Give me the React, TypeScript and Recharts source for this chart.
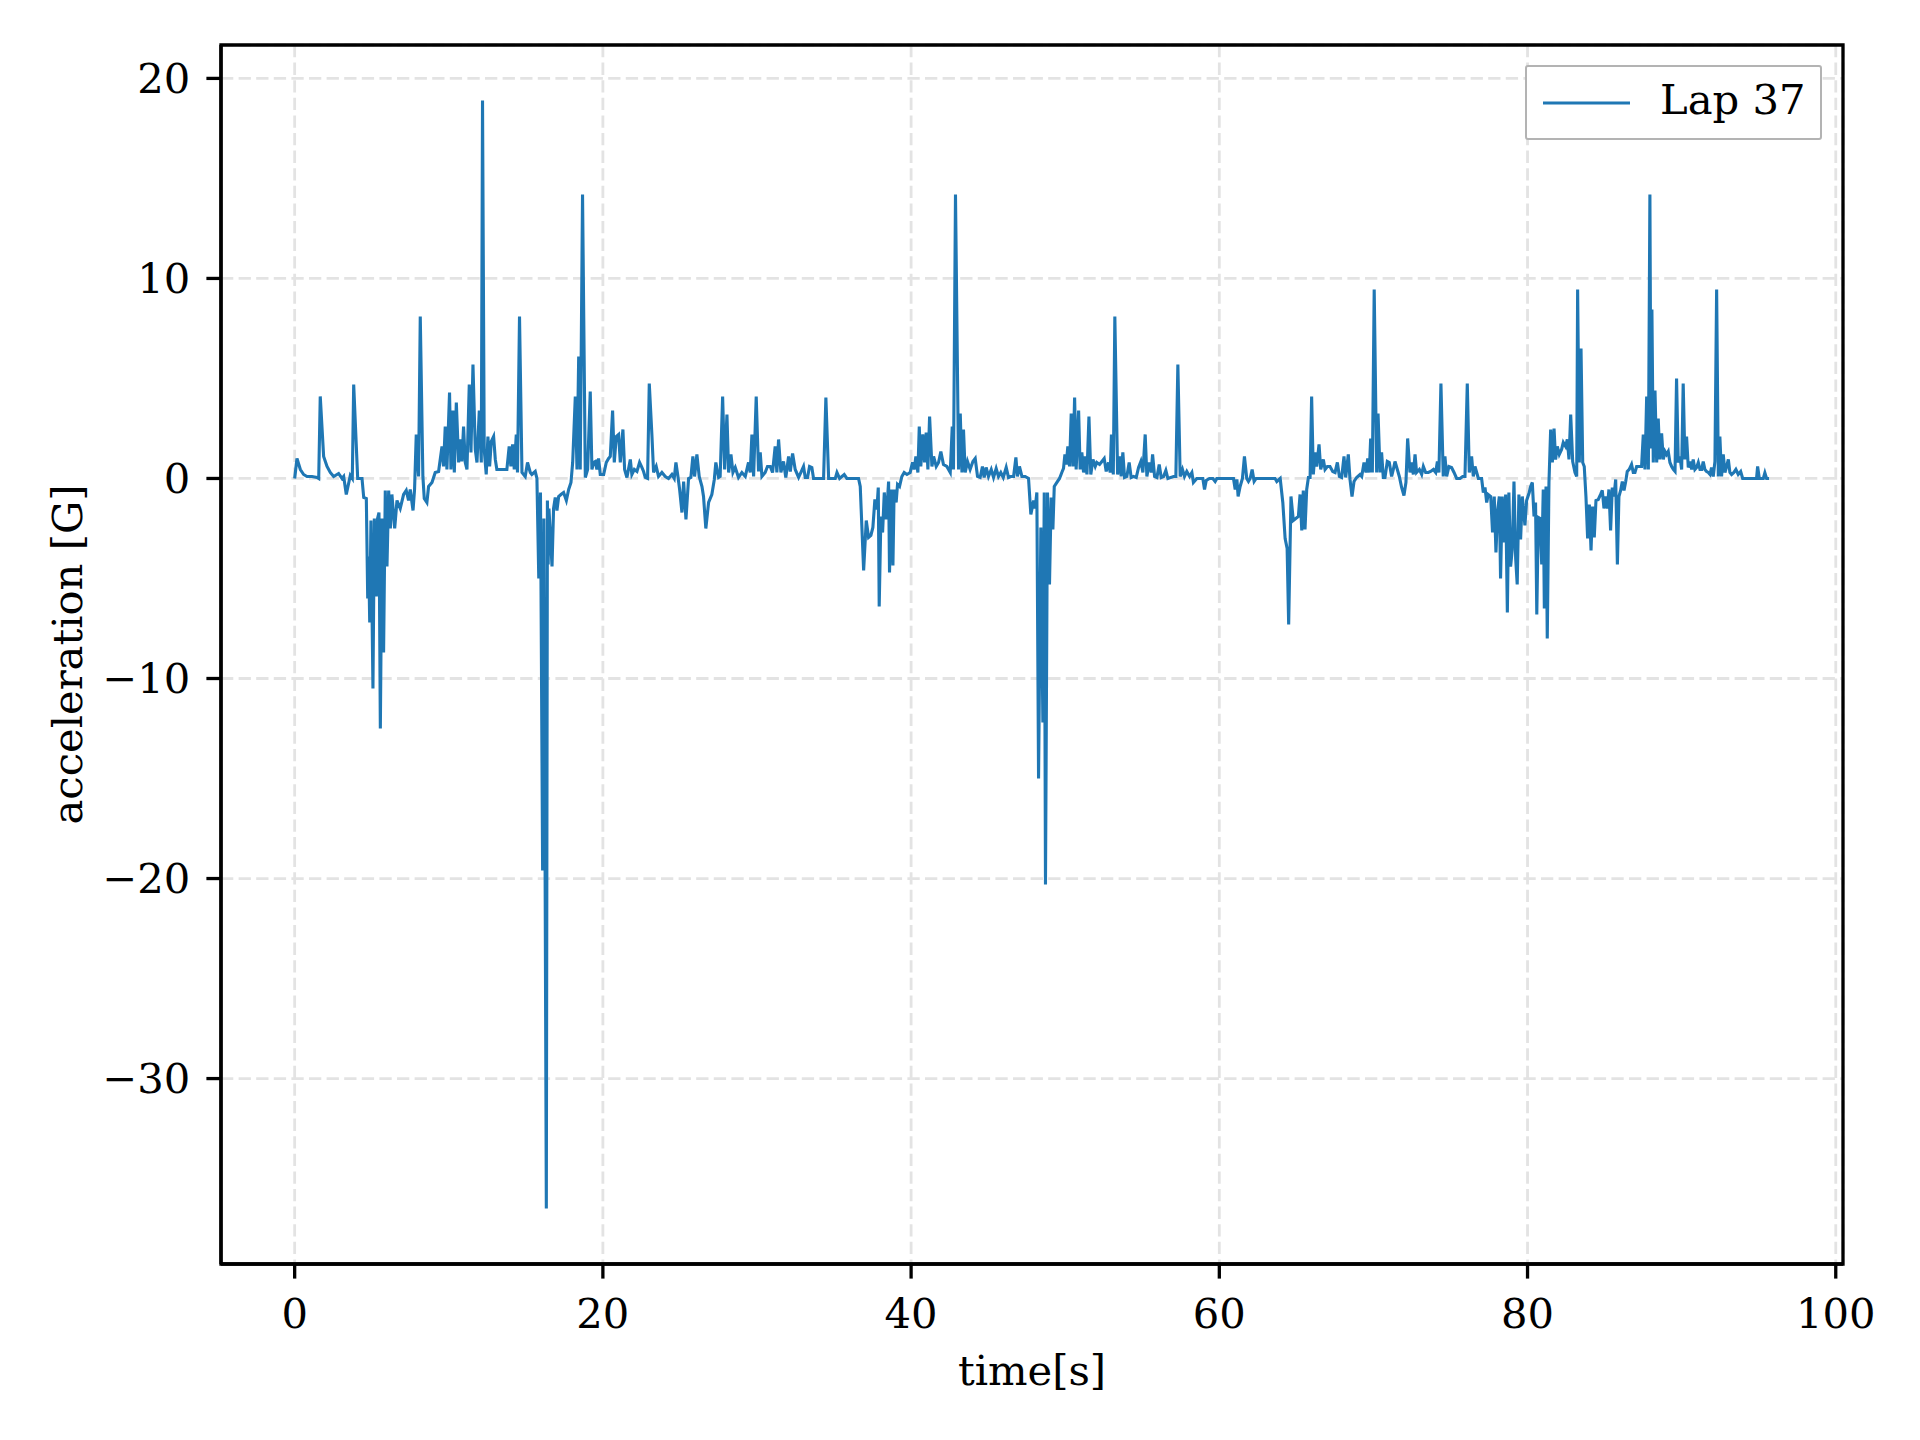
import {
  LineChart,
  Line,
  XAxis,
  YAxis,
  CartesianGrid,
  Legend,
  ReferenceArea,
  Label,
} from "recharts";

// time [s]
const time = [
  0, 0.15, 0.37, 0.58, 0.8, 1.12, 1.45, 1.56, 1.66, 1.88, 2.1, 2.31, 2.53, 2.85, 3.07, 3.18, 3.35, 3.61, 3.74, 3.83,
  4.09, 4.37, 4.48, 4.65, 4.74, 4.8, 4.87, 4.95, 5.08, 5.17, 5.3, 5.38, 5.47, 5.56, 5.67, 5.77, 5.88, 5.99, 6.1, 6.21,
  6.31, 6.49, 6.64, 6.85, 7.07, 7.24, 7.39, 7.5, 7.68, 7.78, 7.89, 8.04, 8.15, 8.32, 8.41, 8.58, 8.69, 8.91, 9.12, 9.34,
  9.56, 9.66, 9.77, 9.88, 10.05, 10.14, 10.27, 10.36, 10.49, 10.64, 10.75, 10.85, 10.96, 11.07, 11.18, 11.33, 11.44, 11.57, 11.72, 11.83,
  11.98, 12.11, 12.19, 12.3, 12.43, 12.54, 12.65, 12.76, 12.91, 13.02, 13.12, 13.34, 13.77, 13.92, 14.03, 14.14, 14.25, 14.38, 14.46, 14.59,
  14.75, 14.96, 15.11, 15.29, 15.39, 15.61, 15.72, 15.84, 15.95, 16.09, 16.17, 16.33, 16.4, 16.45, 16.5, 16.7, 16.8, 16.91, 17.02, 17.13,
  17.28, 17.45, 17.63, 17.78, 17.93, 18.04, 18.21, 18.32, 18.43, 18.53, 18.68, 18.86, 19.01, 19.18, 19.29, 19.4, 19.51, 19.61, 19.72, 19.83,
  20.05, 20.22, 20.37, 20.48, 20.63, 20.74, 20.87, 21.02, 21.13, 21.3, 21.41, 21.56, 21.78, 21.88, 22.04, 22.21, 22.38, 22.53, 22.64, 22.75,
  22.9, 23.01, 23.18, 23.29, 23.46, 23.61, 23.83, 24.05, 24.26, 24.48, 24.63, 24.74, 24.87, 24.98, 25.13, 25.24, 25.39, 25.56, 25.71, 25.84,
  25.95, 26.1, 26.25, 26.43, 26.53, 26.68, 26.86, 27.07, 27.23, 27.33, 27.51, 27.61, 27.77, 27.9, 28.05, 28.16, 28.31, 28.44, 28.59, 28.8,
  29.02, 29.24, 29.45, 29.56, 29.67, 29.78, 29.95, 30.1, 30.21, 30.32, 30.53, 30.68, 30.86, 31.01, 31.18, 31.29, 31.4, 31.55, 31.72, 31.87,
  32.05, 32.16, 32.31, 32.48, 32.7, 32.85, 33.02, 33.13, 33.28, 33.41, 33.56, 33.67, 34.32, 34.47, 34.65, 35.08, 35.19, 35.36, 35.66, 35.83,
  36.59, 36.7, 36.92, 37.09, 37.24, 37.39, 37.52, 37.65, 37.78, 37.87, 37.93, 38.04, 38.15, 38.26, 38.39, 38.54, 38.6, 38.71, 38.82, 38.9,
  39.03, 39.12, 39.25, 39.4, 39.55, 39.73, 39.94, 40.09, 40.2, 40.31, 40.44, 40.53, 40.63, 40.76, 40.87, 40.98, 41.09, 41.2, 41.35, 41.46,
  41.63, 41.78, 41.93, 42.1, 42.32, 42.54, 42.67, 42.75, 42.88, 43.08, 43.19, 43.3, 43.4, 43.51, 43.66, 43.83, 44.01, 44.16, 44.31, 44.48,
  44.63, 44.74, 44.87, 45.02, 45.2, 45.35, 45.52, 45.67, 45.82, 45.98, 46.17, 46.32, 46.47, 46.65, 46.8, 46.9, 47.03, 47.19, 47.4, 47.62,
  47.77, 47.95, 48.05, 48.16, 48.27, 48.42, 48.55, 48.64, 48.72, 48.85, 48.98, 49.09, 49.2, 49.29, 49.46, 49.63, 49.78, 49.89, 49.98, 50.07,
  50.17, 50.28, 50.39, 50.5, 50.61, 50.71, 50.87, 50.97, 51.08, 51.19, 51.3, 51.41, 51.54, 51.66, 51.8, 51.95, 52.05, 52.23, 52.38, 52.53,
  52.66, 52.81, 52.92, 53.0, 53.12, 53.22, 53.4, 53.52, 53.63, 53.74, 53.85, 54.0, 54.15, 54.28, 54.43, 54.61, 54.76, 54.91, 55.04, 55.19,
  55.3, 55.45, 55.58, 55.67, 55.8, 55.95, 56.1, 56.23, 56.38, 56.53, 56.66, 57.03, 57.18, 57.31, 57.46, 57.61, 57.74, 57.89, 58.07, 58.22,
  58.32, 58.54, 58.93, 59.04, 59.15, 59.36, 59.58, 59.73, 59.84, 60.92, 61.03, 61.14, 61.22, 61.35, 61.5, 61.63, 61.78, 61.89, 62.0, 62.13,
  62.26, 62.39, 63.62, 63.73, 63.95, 64.12, 64.27, 64.4, 64.5, 64.65, 64.8, 64.96, 65.13, 65.24, 65.35, 65.45, 65.56, 65.67, 65.78, 65.89,
  65.99, 66.1, 66.21, 66.32, 66.47, 66.58, 66.75, 66.86, 67.01, 67.18, 67.36, 67.51, 67.66, 67.79, 67.94, 68.09, 68.2, 68.37, 68.48, 68.61,
  68.74, 68.91, 69.13, 69.24, 69.39, 69.52, 69.63, 69.73, 69.82, 69.93, 70.05, 70.21, 70.3, 70.43, 70.53, 70.64, 70.75, 70.9, 71.03, 71.18,
  71.29, 71.4, 71.55, 71.68, 71.83, 71.98, 72.11, 72.22, 72.37, 72.48, 72.59, 72.7, 72.8, 72.98, 73.13, 73.24, 73.39, 73.56, 73.71, 73.89,
  74.04, 74.15, 74.25, 74.38, 74.53, 74.64, 74.75, 74.9, 75.07, 75.23, 75.4, 75.62, 75.79, 75.94, 76.09, 76.22, 76.37, 76.48, 76.59, 76.7,
  76.81, 77.02, 77.13, 77.24, 77.35, 77.45, 77.61, 77.73, 77.84, 77.95, 78.06, 78.17, 78.25, 78.36, 78.47, 78.58, 78.69, 78.79, 78.9, 79.01,
  79.12, 79.23, 79.33, 79.44, 79.55, 79.66, 79.83, 79.94, 80.11, 80.2, 80.31, 80.42, 80.52, 80.6, 80.7, 80.81, 80.92, 81.02, 81.09, 81.2,
  81.28, 81.39, 81.5, 81.61, 81.72, 81.82, 81.93, 82.06, 82.21, 82.32, 82.47, 82.58, 82.69, 82.8, 82.93, 83.08, 83.19, 83.25, 83.36, 83.47,
  83.58, 83.68, 83.79, 83.9, 84.01, 84.12, 84.22, 84.33, 84.44, 84.59, 84.74, 84.85, 84.96, 85.07, 85.18, 85.28, 85.39, 85.5, 85.61, 85.72,
  85.83, 85.93, 86.04, 86.15, 86.26, 86.37, 86.47, 86.6, 86.75, 86.86, 86.97, 87.08, 87.23, 87.4, 87.51, 87.62, 87.73, 87.84, 87.94, 88.01,
  88.07, 88.16, 88.27, 88.38, 88.48, 88.59, 88.7, 88.81, 88.92, 89.02, 89.13, 89.24, 89.35, 89.46, 89.57, 89.67, 89.78, 89.89, 90.0, 90.1,
  90.21, 90.32, 90.43, 90.54, 90.65, 90.75, 90.86, 90.97, 91.08, 91.19, 91.3, 91.4, 91.51, 91.62, 91.73, 91.84, 91.94, 92.05, 92.16, 92.27,
  92.38, 92.48, 92.59, 92.7, 92.81, 92.92, 93.03, 93.13, 93.24, 93.39, 93.52, 93.67, 93.83, 93.96, 94.86, 94.93, 95.04, 95.3, 95.4, 95.51,
  95.68,
];

// acceleration [G]
const accel = [
  0, 1.0, 0.45, 0.2, 0.1, 0.1, 0.05, 0, 4.1, 1.1, 0.6, 0.3, 0.1, 0.25, 0, 0.1, -0.8, 0.15, 0, 4.7,
  0, 0, -0.95, -1.0, -6.0, -3.9, -7.2, -2.1, -10.5, -2.0, -5.9, -2.0, -1.7, -12.5, -2.0, -8.7, -0.6, -4.4, -0.6, -2.5,
  -0.8, -2.5, -1.1, -1.5, -0.8, -0.6, -1.1, -0.55, -1.6, -0.55, 2.2, 0.1, 8.1, 0.1, -1.0, -1.2, -0.4, -0.2, 0.3, 0.35,
  1.6, 0.6, 2.6, 0.45, 4.3, 0.45, 3.4, 0.3, 3.8, 0.8, 1.95, 0.85, 2.6, 0.8, 0.45, 4.7, 1.3, 5.7, 1.45, 0.8,
  3.4, 0.8, 18.9, 1.45, 0.2, 2.1, 0.6, 1.85, 2.1, 0.95, 0.45, 0.45, 0.45, 1.6, 0.6, 1.7, 0.45, 2.2, 0.3, 8.1,
  0.3, 0.1, 0.8, 0.3, 0.2, 0.35, 0, -5.0, -0.7, -19.6, -2.0, -36.5, -1.1, -4.3, -1.5, -4.4, -1.5, -0.95, -1.6, -0.9,
  -0.8, -0.7, -1.1, -0.55, -0.2, 0.8, 4.1, 0.45, 6.1, 0.45, 14.2, 0.05, 0.45, 4.35, 0.45, 0.8, 0.85, 0.45, 1.0, 0.2,
  0.2, 0.8, 1.0, 1.1, 3.4, 0.8, 2.1, 2.2, 0.8, 2.45, 0.45, 0.05, 0.95, 0.2, 0.45, 0.35, 0.8, 0.55, 0.35, 0.05,
  0, 4.75, 2.2, 0.3, 0.6, 0.1, 0.3, 0.1, 0, 0.2, 0, 0.8, 0.1, -0.55, -1.7, -0.15, -2.05, 0, 0.05, 1.1,
  0.1, 1.2, 0.1, -0.4, -0.9, -2.5, -1.2, -0.8, -0.05, 0.8, 0.05, 0.1, 4.1, 0.45, 3.2, 0.3, 1.2, 0.3, 0.55, 0.05,
  0.3, 0.1, 0.8, 0.3, 2.2, 0.1, 4.1, 0.35, 1.3, 0.1, 0.3, 0.6, 0.6, 0.3, 1.6, 0.3, 1.95, 0.3, 0.85, 0.05,
  1.1, 0.35, 1.25, 0.45, 0.05, 0.3, 0.6, 0.05, 0.05, 0.6, 0.55, 0, 0, 4.05, 0, 0, 0.3, 0, 0.2, 0,
  0, -0.4, -4.6, -2.1, -2.95, -2.85, -2.45, -1.05, -1.55, -0.45, -6.4, -1.9, -2.7, -0.7, -2.05, -0.15, -4.7, -0.55, -4.35, -0.55,
  -1.2, -0.3, -0.4, 0.1, 0.3, 0.2, 0.3, 0.8, 0.45, 1.1, 0.3, 2.6, 0.6, 2.2, 0.8, 2.3, 0.45, 3.1, 0.6, 1.1,
  0.6, 0.8, 1.35, 0.7, 0.6, 0.3, 2.6, 0.45, 14.2, 0.45, 3.25, 0.3, 2.45, 0.3, 0.85, 0.45, 0.85, 1.0, 0.1, 0.05,
  0.6, 0.05, 0.55, 0.1, 0.45, 0.05, 0.5, 0.1, 0.3, 0.05, 0.55, 0.05, 0.1, 0.1, 1.05, 0.1, 0.6, 0.1, 0.1, 0,
  -1.8, -1.1, -1.5, -0.7, -15.0, -2.45, -12.2, -0.7, -20.3, -0.7, -5.3, -0.95, -2.55, -0.4, -0.2, 0, 0.3, 0.5, 1.2, 0.7,
  1.6, 0.6, 3.25, 0.6, 4.05, 0.45, 3.4, 0.45, 1.3, 0.3, 1.1, 0.2, 3.1, 0.2, 0.95, 0.6, 0.8, 0.7, 0.85, 1.0,
  0.35, 0.8, 0.3, 2.2, 0.2, 8.1, 0.2, 1.1, 0.1, 1.3, 0.05, 0.1, 0.8, 0.05, 0.1, 0.05, 0.55, 0.85, 0.3, 2.2,
  0.1, 0.8, 0.3, 1.2, 0.1, 0.05, 0.7, 0.05, 0.1, 0.4, 0, 0.1, 0.1, 5.7, 0.1, 0.45, 0.1, 0.35, 0.1, 0.3,
  -0.2, 0, 0, -0.55, -0.1, 0, 0, -0.15, 0, 0, -0.55, -0.05, -0.9, -0.4, 0, 1.1, 0, -0.15, 0, 0.45,
  -0.15, 0, 0, -0.15, 0, -1.2, -3.0, -3.5, -7.3, -0.9, -2.1, -2.0, -1.9, -0.8, -2.6, -0.6, -2.55, -0.55, 0.05, 0.05,
  4.1, 0.2, 1.3, 0.6, 1.7, 0.45, 0.95, 0.45, 0.6, 0.6, 0.35, 0.3, 0.8, 0.1, 0.05, 1.1, 0.05, 1.2, -0.05, -0.9,
  -0.15, 0.05, 0.2, 0.1, 0.8, 0.3, 1.0, 0.3, 2.0, 0.3, 9.45, 0.3, 3.25, 0.3, 1.3, 0.05, 0.05, 0.85, 0.8, 0.1,
  0.45, 0.85, 0.45, 0.1, -0.45, -0.85, -0.2, 2.0, 0.3, 0.8, 0.2, 1.2, 0.3, 0.45, 0.2, 0.6, 0.3, 0.3, 0.35, 0.45,
  0.3, 0.85, 0.3, 4.75, 0.1, 1.1, 0.1, 0.6, 0.55, 0.3, 0, 0, 0.1, 0.1, 4.75, 0.3, 1.1, 0.1, 0.6, 0.3,
  0, 0, -0.7, -0.45, -1.2, -0.8, -0.9, -2.7, -0.9, -3.7, -1.6, -0.9, -5.0, -0.9, -3.2, -0.8, -6.7, -0.7, -4.4, -3.55,
  -0.15, -4.0, -5.3, -0.8, -3.05, -0.9, -2.35, -1.1, -0.7, -0.4, -0.2, -1.9, -1.2, -6.8, -1.95, -2.0, -4.3, -0.55, -6.5, -0.4,
  -8.0, -0.2, 2.45, 0.8, 2.5, 0.95, 1.6, 1.2, 1.45, 1.8, 1.6, 1.95, 0.95, 3.2, 0.85, 0.3, 0.1, 9.45, 0.8, 6.5,
  0.8, 0.6, -0.9, -3.0, -1.3, -3.6, -1.4, -2.95, -1.1, -1.05, -0.8, -0.6, -1.5, -0.9, -1.5, -0.55, -2.6, -0.45, -0.9, -0.05,
  -4.3, -0.9, -0.6, -0.15, -0.6, -0.15, 0.35, 0.45, 0.7, 0.3, 0.3, 0.6, 0.6, 0.6, 2.2, 0.45, 4.1, 0.45, 14.2, 1.5,
  8.45, 0.8, 4.4, 0.8, 3.0, 0.95, 2.25, 0.95, 1.35, 1.2, 1.35, 0.8, 0.6, 0.45, 0.35, 5.0, 0.8, 1.1, 0.45, 4.75,
  0.95, 2.1, 0.55, 0.85, 0.45, 0.95, 0.45, 0.55, 0.8, 0.45, 0.45, 0.85, 0.45, 0.35, 0.3, 0.2, 0.55, 0.1, 0.85, 9.45,
  0.1, 2.1, 0.1, 1.2, 0.3, 0.6, 0.95, 0.3, 0.2, 0.3, 0.45, 0.2, 0.35, 0, 0, 0.6, 0, 0, 0.28, 0,
  0,
];

const xTicks = [0, 20, 40, 60, 80, 100];
const yTicks = [-30, -20, -10, 0, 10, 20];

const data = time.map((t, i) => ({ t, a: accel[i] }));

const font = "'DejaVu Serif', 'Liberation Serif', serif";
const fs = 41.7;
const xDomain: [number, number] = [-4.78, 100.47];
const yDomain: [number, number] = [-39.27, 21.67];

const fmt = (v: number) => (v < 0 ? `\u2212${-v}` : `${v}`);

function LegendBox() {
  return (
    <div
      style={{
        boxSizing: "border-box",
        width: 297,
        height: 75,
        border: "2.7px solid #b3b3b3",
        borderRadius: 3,
        background: "#fff",
        position: "relative",
        fontFamily: font,
        fontSize: fs,
      }}
    >
      <svg width={100} height={20} style={{ position: "absolute", left: 14, top: 26 }}>
        <line x1={2} y1={10} x2={89} y2={10} stroke="#1f77b4" strokeWidth={3.1} />
      </svg>
      <span style={{ position: "absolute", left: 133, top: 8, lineHeight: "50px", color: "#000" }}>Lap 37</span>
    </div>
  );
}

export default function App() {
  return (
    <div style={{ width: 1920, height: 1440, background: "#fff" }}>
      <style>{"body{margin:0}"}</style>
      <LineChart
        width={1920}
        height={1440}
        data={data}
        margin={{ top: 45, right: 77, bottom: 96, left: 71 }}
      >
        <CartesianGrid stroke="#e3e3e3" strokeWidth={2.8} strokeDasharray="12.3 5.3" />
        <XAxis
          dataKey="t"
          type="number"
          domain={xDomain}
          ticks={xTicks}
          allowDataOverflow
          height={80}
          tickSize={14.6}
          tickMargin={20}
          axisLine={{ stroke: "#000", strokeWidth: 3.3 }}
          tickLine={{ stroke: "#000", strokeWidth: 3.3 }}
          tick={{ fill: "#000", fontSize: fs, fontFamily: font }}
        >
          <Label
            value="time[s]"
            position="bottom"
            offset={11}
            style={{ fill: "#000", fontSize: fs, fontFamily: font }}
          />
        </XAxis>
        <YAxis
          type="number"
          domain={yDomain}
          ticks={yTicks}
          allowDataOverflow
          width={150}
          tickSize={14.6}
          tickMargin={16}
          tickFormatter={fmt}
          axisLine={{ stroke: "#000", strokeWidth: 3.3 }}
          tickLine={{ stroke: "#000", strokeWidth: 3.3 }}
          tick={{ fill: "#000", fontSize: fs, fontFamily: font }}
        >
          <Label
            value="acceleration [G]"
            angle={-90}
            position="insideLeft"
            offset={-4}
            style={{ fill: "#000", fontSize: fs, fontFamily: font, textAnchor: "middle" }}
          />
        </YAxis>
        <Line
          type="linear"
          dataKey="a"
          name="Lap 37"
          stroke="#1f77b4"
          strokeWidth={3.1}
          dot={false}
          isAnimationActive={false}
        />
        <ReferenceArea
          x1={xDomain[0]}
          x2={xDomain[1]}
          y1={yDomain[0]}
          y2={yDomain[1]}
          fill="none"
          fillOpacity={0}
          stroke="#000"
          strokeWidth={3.3}
        />
        <Legend
          layout="vertical"
          align="center"
          verticalAlign="middle"
          content={() => <LegendBox />}
          wrapperStyle={{ left: 1525, top: 65, width: 297, height: 75, right: "auto", bottom: "auto" }}
        />
      </LineChart>
    </div>
  );
}
